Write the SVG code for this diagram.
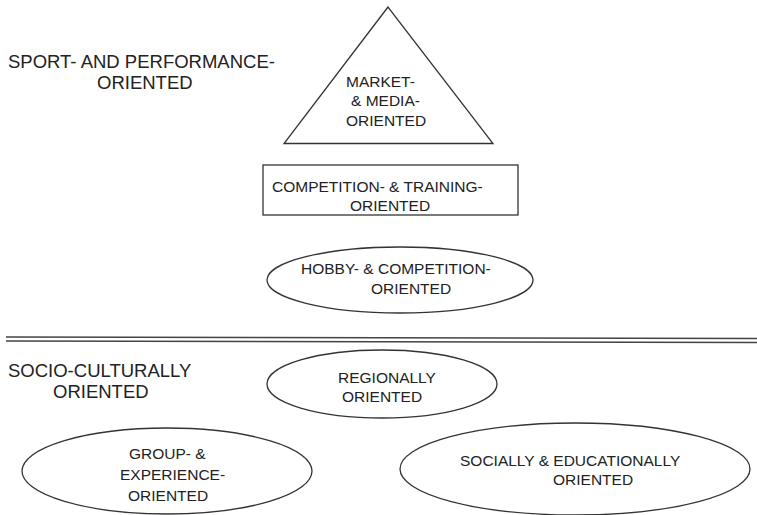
<svg xmlns="http://www.w3.org/2000/svg" width="757" height="515" viewBox="0 0 757 515">
<style>
.s{fill:#fff;stroke:#333;stroke-width:1.3}
.t{font-family:"Liberation Sans",Arial,sans-serif;font-size:15.5px;fill:#222}
.h{font-family:"Liberation Sans",Arial,sans-serif;font-size:18.5px;fill:#222}
</style>
<rect x="0" y="0" width="757" height="515" fill="#fff"/>
<g id="label-sport">
<text class="h" x="8" y="68">SPORT- AND PERFORMANCE-</text>
<text class="h" x="97" y="89">ORIENTED</text>
</g>
<g id="label-socio">
<text class="h" x="8" y="377">SOCIO-CULTURALLY</text>
<text class="h" x="53" y="398">ORIENTED</text>
</g>
<g id="connectors">
<line x1="6" y1="337" x2="757" y2="338.5" stroke="#444" stroke-width="1.3"/>
<line x1="6" y1="341" x2="757" y2="342.5" stroke="#444" stroke-width="1.3"/>
</g>
<g id="market">
<polygon class="s" points="388,7 284,143.5 493,143.5"/>
<text class="t" x="346" y="87">MARKET-</text>
<text class="t" x="351" y="106">&amp; MEDIA-</text>
<text class="t" x="346" y="126">ORIENTED</text>
</g>
<g id="competition">
<rect class="s" x="263" y="165" width="255" height="50"/>
<text class="t" x="272" y="192">COMPETITION- &amp; TRAINING-</text>
<text class="t" x="350" y="211">ORIENTED</text>
</g>
<g id="hobby">
<ellipse class="s" cx="400" cy="280" rx="133" ry="33"/>
<text class="t" x="301" y="274">HOBBY- &amp; COMPETITION-</text>
<text class="t" x="371" y="294">ORIENTED</text>
</g>
<g id="regional">
<ellipse class="s" cx="382" cy="384" rx="115" ry="34"/>
<text class="t" x="338" y="383">REGIONALLY</text>
<text class="t" x="342" y="402">ORIENTED</text>
</g>
<g id="group">
<ellipse class="s" cx="167" cy="471" rx="145" ry="43"/>
<text class="t" x="129" y="459">GROUP- &amp;</text>
<text class="t" x="120" y="480">EXPERIENCE-</text>
<text class="t" x="128" y="501">ORIENTED</text>
</g>
<g id="social">
<ellipse class="s" cx="575" cy="469" rx="175" ry="46"/>
<text class="t" x="460" y="466">SOCIALLY &amp; EDUCATIONALLY</text>
<text class="t" x="553" y="485">ORIENTED</text>
</g>
</svg>
